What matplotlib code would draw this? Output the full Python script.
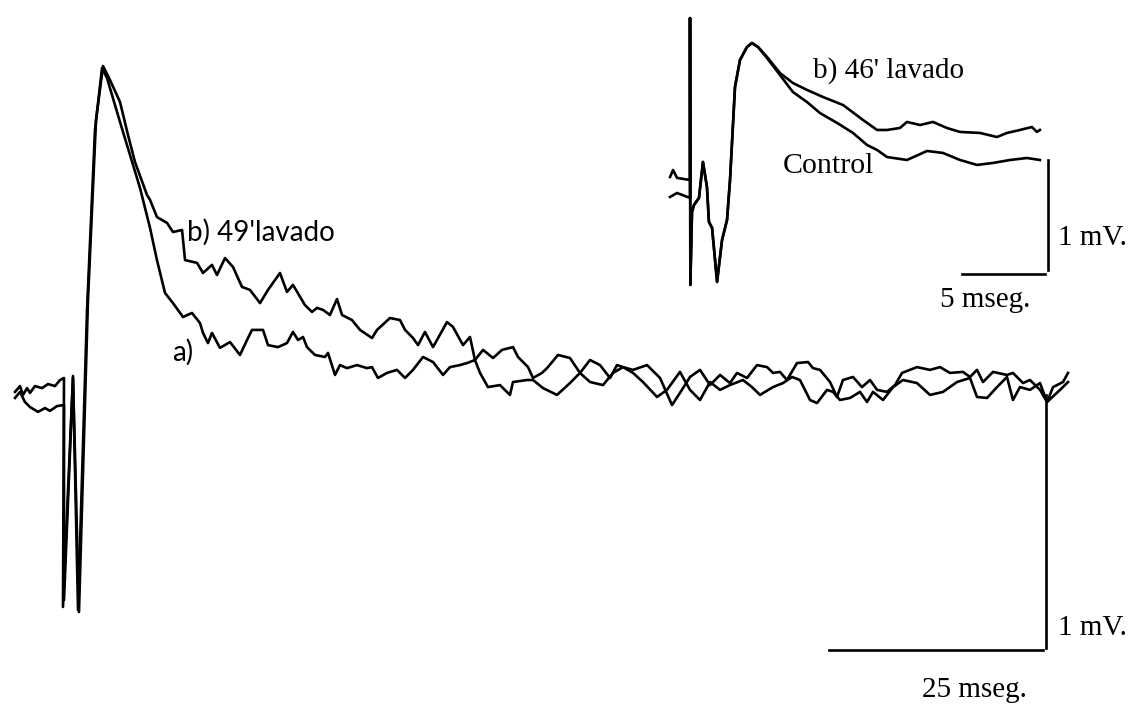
import numpy as np
import matplotlib.pyplot as plt

# ---- main recording (ms, mV) ----
# b) 49' lavado
t_b = [-5.72, -5.14, -4.79, -4.32, -3.97, -3.39, -2.57, -1.87, -1.05, -0.47, 0.0,
       -0.12, 1.05, 1.75, 2.80, 3.74, 4.56, 5.37,
       6.54, 7.48, 8.29, 9.70, 10.05, 10.86, 12.03, 12.73, 13.79, 14.14,
       15.54, 16.24, 17.29, 17.87, 18.81, 19.74, 20.79, 21.73, 22.90, 23.83,
       25.23, 26.05, 26.75, 28.15, 28.97, 29.56, 30.26, 31.07, 31.89, 32.48,
       33.64, 34.58, 35.98, 36.57, 38.08, 39.25, 39.84, 40.77, 41.36, 42.17,
       43.11, 44.74, 45.44, 46.61, 47.43, 48.01, 48.60, 49.53, 50.93, 52.10,
       52.45, 54.09, 54.79, 55.96, 57.59, 59.11, 60.28, 61.45, 62.97, 64.14,
       65.30, 66.47, 67.64, 69.28, 70.44, 71.96, 73.13, 74.30, 75.47, 76.64,
       77.80, 79.32, 80.37, 81.31, 82.83, 84.00, 85.05, 85.98, 87.15, 87.97,
       89.14, 89.84, 90.65, 91.82, 92.99, 93.81, 94.51, 95.68, 96.85, 98.01,
       99.65, 101.17, 102.69, 104.32, 105.84, 106.66, 107.83, 109.00, 110.16, 110.86,
       111.68, 112.85, 114.02, 114.84, 116.36, 117.29]
v_b = [0.032, 0.055, 0.020, 0.047, 0.028, 0.055, 0.047, 0.063, 0.055, 0.079, 0.087,
       -0.818, 0.095, -0.838, 0.395, 1.107, 1.320, 1.265,
       1.178, 1.047, 0.941, 0.810, 0.791, 0.723, 0.700, 0.664, 0.672, 0.553,
       0.542, 0.502, 0.534, 0.494, 0.561, 0.526, 0.447, 0.435, 0.383, 0.435,
       0.502, 0.427, 0.455, 0.375, 0.348, 0.364, 0.356, 0.336, 0.399, 0.336,
       0.316, 0.277, 0.245, 0.277, 0.324, 0.316, 0.277, 0.245, 0.217, 0.269,
       0.209, 0.308, 0.289, 0.217, 0.249, 0.158, 0.107, 0.051, 0.059, 0.020,
       0.071, 0.079, 0.079, 0.047, 0.020, 0.067, 0.107, 0.071, 0.059, 0.107,
       0.130, 0.107, 0.071, 0.012, 0.040, 0.111, 0.040, 0.000, 0.071, 0.040,
       0.059, 0.079, 0.051, 0.020, 0.051, 0.067, 0.091, 0.079, 0.000, -0.012,
       0.040, 0.032, 0.000, 0.008, 0.032, -0.008, 0.032, 0.000, 0.051, 0.079,
       0.067, 0.020, 0.032, 0.071, 0.087, 0.012, 0.008, 0.051, 0.091, 0.000,
       0.051, 0.040, 0.067, -0.008, 0.040, 0.071]

# a) control
t_a = [-5.72, -5.14, -4.56, -3.97, -3.04, -2.22, -1.64, -0.82, 0.0,
       0.0, 1.05, 1.64, 2.69, 3.62, 4.44, 5.02,
       6.54, 7.71, 8.88, 10.05, 10.86, 11.80, 12.73, 13.90, 14.95, 15.89,
       16.24, 16.82, 17.29, 18.22, 19.39, 20.56, 21.38, 21.96, 23.25, 23.83,
       25.00, 26.05, 26.75, 27.34, 27.92, 28.39, 29.32, 30.49, 30.84, 31.66,
       32.24, 33.06, 34.23, 35.40, 35.98, 36.68, 37.73, 38.90, 39.84, 40.77,
       41.94, 43.11, 44.28, 45.09, 46.26, 47.08, 48.01, 48.95, 50.12, 51.17,
       52.45, 53.04, 54.21, 54.79, 55.84, 56.43, 57.71, 59.11, 60.28, 61.45,
       62.62, 63.79, 64.60, 65.30, 66.47, 68.11, 69.63, 71.03, 71.96, 73.13,
       74.30, 75.47, 76.64, 77.80, 78.62, 79.79, 80.96, 82.13, 82.83, 83.64,
       84.46, 85.63, 86.92, 87.50, 88.32, 89.49, 90.30, 91.00, 92.17, 93.22,
       94.16, 94.98, 96.14, 97.08, 97.90, 98.83, 99.65, 101.17, 102.34, 103.50,
       105.02, 105.84, 106.66, 107.36, 108.53, 110.16, 110.86, 112.03, 112.85, 114.02,
       114.84, 115.54, 116.71, 117.29]
v_a = [0.008, 0.032, -0.008, -0.028, -0.047, -0.032, -0.043, -0.024, -0.020,
       -0.791, 0.087, -0.830, 0.356, 1.067, 1.312, 1.273,
       1.099, 0.968, 0.838, 0.680, 0.553, 0.423, 0.383, 0.328, 0.344, 0.304,
       0.265, 0.225, 0.265, 0.206, 0.229, 0.178, 0.237, 0.277, 0.277, 0.217,
       0.209, 0.225, 0.269, 0.237, 0.249, 0.209, 0.178, 0.170, 0.186, 0.099,
       0.138, 0.126, 0.138, 0.126, 0.130, 0.087, 0.107, 0.119, 0.087, 0.119,
       0.170, 0.150, 0.099, 0.130, 0.138, 0.146, 0.158, 0.198, 0.166, 0.198,
       0.209, 0.170, 0.130, 0.087, 0.107, 0.126, 0.178, 0.166, 0.107, 0.158,
       0.138, 0.087, 0.138, 0.130, 0.119, 0.138, 0.087, -0.020, 0.028, 0.091,
       0.119, 0.059, 0.099, 0.067, 0.107, 0.087, 0.138, 0.130, 0.107, 0.111,
       0.079, 0.146, 0.150, 0.126, 0.119, 0.071, 0.012, 0.079, 0.091, 0.051,
       0.079, 0.040, 0.032, 0.059, 0.107, 0.119, 0.130, 0.119, 0.130, 0.107,
       0.111, 0.091, 0.119, 0.071, 0.111, 0.099, 0.107, 0.067, 0.079, 0.040,
       -0.008, 0.051, 0.071, 0.107]

# ---- inset recording (ms, mV) ----
t_early = [0.0, 0.02, 0.12, 0.24, 0.54, 0.78, 1.02, 1.14, 1.33, 1.63, 1.93, 2.23,
           2.41, 2.71, 3.01, 3.43, 3.73, 4.10]
v_early = [1.609, -0.818, -0.155, -0.091, -0.027, 0.30, 0.073, -0.245, -0.30, -0.791,
           -0.409, -0.227, 0.136, 0.982, 1.227, 1.345, 1.382, 1.345]

t46_pre = [-1.20, -1.02, -0.78, 0.0]
v46_pre = [0.164, 0.227, 0.155, 0.136]
t46_late = [4.64, 5.42, 6.20, 7.05, 8.01, 9.22, 10.42, 11.27, 11.87, 12.65, 13.07,
            13.86, 14.64, 15.48, 16.27, 17.47, 18.49, 19.10, 19.88, 20.60, 20.90, 21.08]
v46_late = [1.255, 1.109, 1.018, 0.955, 0.891, 0.818, 0.682, 0.591, 0.591, 0.609, 0.664,
            0.636, 0.664, 0.609, 0.573, 0.564, 0.527, 0.564, 0.591, 0.618, 0.573, 0.591]

tc_pre = [-1.20, -0.78, 0.0]
vc_pre = [-0.018, 0.018, -0.027]
tc_late = [4.64, 5.42, 6.20, 7.05, 7.83, 8.86, 9.82, 10.66, 11.27, 11.87, 13.07,
           14.28, 15.24, 16.27, 17.29, 18.25, 19.28, 20.30, 21.08]
vc_late = [1.245, 1.091, 0.936, 0.845, 0.745, 0.655, 0.564, 0.455, 0.409, 0.345, 0.318,
           0.400, 0.382, 0.318, 0.273, 0.291, 0.318, 0.336, 0.318]

serif = 'Liberation Serif'
lw = 1.9

fig = plt.figure(figsize=(11.34, 7.04), dpi=100)

ax = fig.add_axes([0, 0, 1, 1])
ax.plot(t_a, v_a, 'k-', lw=lw)
ax.plot(t_b, v_b, 'k-', lw=lw)
# scale bars 25 ms / 1 mV
ax.plot([89.4, 114.4], [-0.99, -0.99], 'k-', lw=lw)
ax.plot([114.72, 114.72], [-0.98, 0.02], 'k-', lw=lw)
ax.text(116.1, -0.90, '1 mV.', fontsize=21, family=serif, va='center', ha='left')
ax.text(106.4, -1.145, '25 mseg.', fontsize=21, family=serif, va='center', ha='center')
ax.text(14.4, 0.664, "b) 49'lavado", fontsize=20, family='Lato', va='center', ha='left')
ax.text(12.6, 0.19, 'a)', fontsize=20, family='Lato', va='center', ha='left')
ax.set_xlim(-7.477, 125.0)
ax.set_ylim(-1.2016, 1.581)
ax.axis('off')

ins = fig.add_axes([0.5732, 0.5739, 0.3968, 0.4119])
ins.plot(t46_pre + t_early + t46_late, v46_pre + v_early + v46_late, 'k-', lw=lw)
ins.plot(tc_pre + t_early + tc_late, vc_pre + v_early + vc_late, 'k-', lw=lw)
# scale bars 5 ms / 1 mV
ins.plot([16.39, 21.39], [-0.718, -0.718], 'k-', lw=lw)
ins.plot([21.57, 21.57], [-0.682, 0.318], 'k-', lw=lw)
ins.text(7.41, 1.136, "b) 46' lavado", fontsize=21, family=serif, va='center', ha='left')
ins.text(5.60, 0.264, 'Control', fontsize=21.5, family=serif, va='center', ha='left')
ins.text(22.17, -0.391, '1 mV.', fontsize=21, family=serif, va='center', ha='left')
ins.text(17.77, -0.955, '5 mseg.', fontsize=21, family=serif, va='center', ha='center')
ins.set_xlim(-2.41, 24.70)
ins.set_ylim(-0.955, 1.682)
ins.axis('off')

fig.savefig('out.png', dpi=100)
